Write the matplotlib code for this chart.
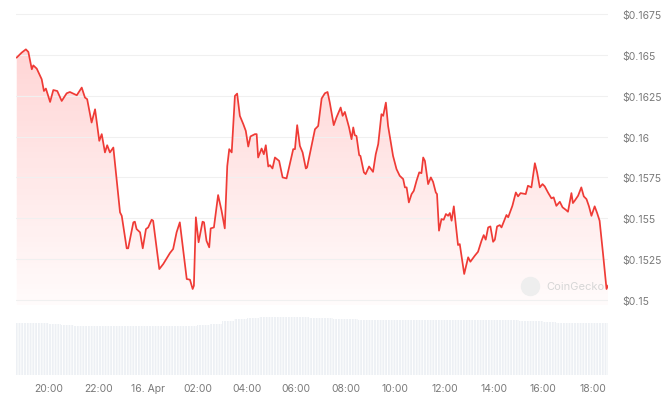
import numpy as np
import matplotlib
matplotlib.use("Agg")
import matplotlib.pyplot as plt

# hours relative to 16 Apr 00:00
hours = [-5.31, -5.11, -4.94, -4.84, -4.70, -4.64, -4.50, -4.30, -4.21, -4.13,
         -3.96, -3.83, -3.67, -3.49, -3.29, -3.16, -2.88, -2.68, -2.55, -2.46,
         -2.28, -2.14, -1.97, -1.87, -1.74, -1.65, -1.54, -1.40, -1.13, -1.06,
         -0.86, -0.80, -0.59, -0.53, -0.46, -0.32, -0.21, -0.08, 0.01, 0.15,
         0.21, 0.46, 0.62, 0.76, 0.89, 1.02, 1.16, 1.29, 1.57, 1.70,
         1.81, 1.86, 1.94, 2.05, 2.21, 2.27, 2.37, 2.48, 2.54, 2.67,
         2.84, 2.98, 3.11, 3.21, 3.29, 3.39, 3.52, 3.61, 3.72, 3.86,
         3.96, 4.06, 4.15, 4.33, 4.40, 4.46, 4.60, 4.69, 4.77, 4.87,
         4.94, 5.04, 5.14, 5.31, 5.45, 5.61, 5.74, 5.88, 5.95, 6.04,
         6.15, 6.26, 6.39, 6.44, 6.62, 6.76, 6.89, 7.03, 7.16, 7.27,
         7.36, 7.52, 7.63, 7.80, 7.88, 7.97, 8.14, 8.24, 8.31, 8.37,
         8.44, 8.55, 8.60, 8.74, 8.81, 8.95, 9.11, 9.22, 9.32, 9.45,
         9.52, 9.63, 9.72, 9.92, 10.06, 10.19, 10.33, 10.40, 10.47, 10.56,
         10.67, 10.76, 10.87, 10.98, 11.07, 11.14, 11.21, 11.34, 11.45, 11.54,
         11.65, 11.70, 11.78, 11.88, 11.97, 12.06, 12.15, 12.22, 12.29, 12.38,
         12.55, 12.62, 12.80, 12.96, 13.05, 13.23, 13.36, 13.50, 13.59, 13.67,
         13.77, 13.86, 13.97, 14.04, 14.13, 14.24, 14.31, 14.51, 14.58, 14.75,
         14.89, 14.98, 15.08, 15.29, 15.38, 15.52, 15.66, 15.75, 15.86, 15.97,
         16.06, 16.19, 16.33, 16.42, 16.53, 16.67, 16.78, 16.91, 17.00, 17.14,
         17.20, 17.27, 17.41, 17.54, 17.64, 17.75, 17.85, 17.95, 18.08, 18.18,
         18.28, 18.42, 18.56, 18.62]

prices = [0.16484, 0.16514, 0.16534, 0.16518, 0.16412, 0.16436, 0.16416, 0.16351, 0.16279, 0.16294,
          0.16212, 0.16285, 0.16279, 0.16218, 0.16265, 0.16273, 0.16253, 0.16300, 0.16239, 0.16229,
          0.16086, 0.16167, 0.15974, 0.16015, 0.15903, 0.15947, 0.15903, 0.15933, 0.15536, 0.15515,
          0.15316, 0.15316, 0.15475, 0.15479, 0.15434, 0.15414, 0.15316, 0.15434, 0.15444, 0.15491,
          0.15485, 0.15189, 0.15220, 0.15255, 0.15287, 0.15312, 0.15414, 0.15475, 0.15128, 0.15124,
          0.15067, 0.15087, 0.15506, 0.15353, 0.15479, 0.15475, 0.15362, 0.15322, 0.15438, 0.15444,
          0.15642, 0.15546, 0.15438, 0.15819, 0.15923, 0.15903, 0.16249, 0.16263, 0.16127, 0.16076,
          0.16035, 0.15939, 0.16001, 0.16015, 0.16015, 0.15872, 0.15927, 0.15892, 0.15947, 0.15817,
          0.15825, 0.15805, 0.15872, 0.15851, 0.15750, 0.15744, 0.15831, 0.15923, 0.15923, 0.16070,
          0.15943, 0.15903, 0.15805, 0.15811, 0.15943, 0.16045, 0.16065, 0.16233, 0.16265, 0.16273,
          0.16208, 0.16070, 0.16117, 0.16178, 0.16127, 0.16151, 0.16056, 0.15984, 0.16056, 0.16009,
          0.16004, 0.15886, 0.15882, 0.15781, 0.15770, 0.15817, 0.15784, 0.15892, 0.15954, 0.16137,
          0.16127, 0.16208, 0.16065, 0.15882, 0.15801, 0.15760, 0.15740, 0.15689, 0.15689, 0.15597,
          0.15648, 0.15668, 0.15729, 0.15781, 0.15776, 0.15872, 0.15851, 0.15709, 0.15750, 0.15723,
          0.15658, 0.15648, 0.15424, 0.15495, 0.15491, 0.15526, 0.15515, 0.15532, 0.15485, 0.15573,
          0.15336, 0.15342, 0.15159, 0.15261, 0.15234, 0.15271, 0.15295, 0.15362, 0.15397, 0.15369,
          0.15444, 0.15450, 0.15356, 0.15369, 0.15450, 0.15458, 0.15444, 0.15520, 0.15506, 0.15576,
          0.15658, 0.15634, 0.15654, 0.15648, 0.15699, 0.15689, 0.15837, 0.15781, 0.15689, 0.15709,
          0.15695, 0.15658, 0.15622, 0.15628, 0.15576, 0.15601, 0.15567, 0.15552, 0.15540, 0.15654,
          0.15593, 0.15607, 0.15638, 0.15689, 0.15634, 0.15617, 0.15573, 0.15515, 0.15573, 0.15532,
          0.15485, 0.15281, 0.15067, 0.15087]

# volume per half hour (relative units)
vol_hours = [-5.34, -5.0, -4.5, -4.0, -3.5, -3.0, -2.5, -2.0, -1.5, -1.0, -0.5,
             0.0, 0.5, 1.0, 1.5, 2.0, 2.5, 3.0, 3.5, 4.0, 4.5, 5.0, 5.5, 6.0,
             6.5, 7.0, 7.5, 8.0, 8.5, 9.0, 9.5, 10.0, 10.5, 11.0, 11.5, 12.0,
             12.5, 13.0, 13.5, 14.0, 14.5, 15.0, 15.5, 16.0, 16.5, 17.0, 17.5, 18.0]
volumes = [52, 52, 52, 51, 50, 49.5, 49.5, 49.5, 49.5, 49.5, 49.5,
           49.5, 49.5, 49.5, 49.5, 50, 51.5, 54, 56.5, 57.5, 58, 58, 58, 58,
           57.5, 57, 56.5, 56, 55.5, 55.5, 55, 55, 55, 55, 55, 55,
           55, 55, 55, 55, 55, 54.5, 54, 53, 52.5, 52.5, 52, 52]

price_ticks = [0.15, 0.1525, 0.155, 0.1575, 0.16, 0.1625, 0.165, 0.1675]
price_labels = ["$0.15", "$0.1525", "$0.155", "$0.1575", "$0.16", "$0.1625", "$0.165", "$0.1675"]
x_ticks = [-4, -2, 0, 2, 4, 6, 8, 10, 12, 14, 16, 18]
x_labels = ["20:00", "22:00", "16. Apr", "02:00", "04:00", "06:00", "08:00",
            "10:00", "12:00", "14:00", "16:00", "18:00"]

plt.rcParams['font.family'] = ['Inter', 'DejaVu Sans']
plt.rcParams['hatch.linewidth'] = 0.7

W, H = 671, 406
fig = plt.figure(figsize=(W / 100, H / 100), dpi=100)
fig.patch.set_facecolor('white')

xmin, xmax = -5.34, 18.62
ymin, ymax = 0.14969, 0.16781

# price panel
ax = fig.add_axes([16 / W, 1 - 306 / H, 592 / W, 296 / H])
ax.set_xlim(xmin, xmax)
ax.set_ylim(ymin, ymax)

# gradient fill under the line
grad = np.linspace(0, 1, 256).reshape(-1, 1)
img = np.zeros((256, 1, 4))
img[..., 0] = 1.0
img[..., 1] = 0.22
img[..., 2] = 0.22
img[..., 3] = 0.02 + 0.22 * grad
fill = ax.fill_between(hours, prices, ymin, color='none')
im = ax.imshow(img, extent=[xmin, xmax, ymin, ymax], origin='lower',
               aspect='auto', zorder=1)
im.set_clip_path(fill.get_paths()[0], transform=ax.transData)

ax.plot(hours, prices, color='#ef3b36', lw=1.25, zorder=3)

ax.set_yticks(price_ticks)
ax.set_yticklabels(price_labels)
ax.yaxis.tick_right()
ax.tick_params(axis='y', length=0, pad=10, labelsize=7.5, labelcolor='#7a7a7a')
ax.set_xticks([])
ax.grid(axis='y', color='#f0f0f0', lw=0.8, zorder=0)
for s in ax.spines.values():
    s.set_visible(False)

# watermark
fig.lines.append(plt.Line2D([530 / W], [1 - 287 / H], transform=fig.transFigure,
                            marker='o', markersize=13, color='#eeeeee', lw=0))
fig.text(546 / W, 1 - 287 / H, "CoinGecko", fontsize=8, color='#d6d6d6',
         va='center', ha='left')

# volume panel
axv = fig.add_axes([16 / W, 1 - 376 / H, 592 / W, 60 / H])
axv.set_xlim(xmin, xmax)
axv.set_ylim(0, 60)
widths = [b - a for a, b in zip(vol_hours, vol_hours[1:] + [xmax])]
axv.bar(vol_hours, volumes, width=widths, align='edge', color='#edf0f4',
        edgecolor='white', linewidth=0, hatch='||||||')
axv.set_yticks([])
axv.set_xticks(x_ticks)
axv.set_xticklabels(x_labels)
axv.tick_params(axis='x', length=0, pad=6, labelsize=7.5, labelcolor='#7a7a7a')
for s in axv.spines.values():
    s.set_visible(False)
axv.patch.set_alpha(0)

fig.savefig('out.png', dpi=100, facecolor='white')
